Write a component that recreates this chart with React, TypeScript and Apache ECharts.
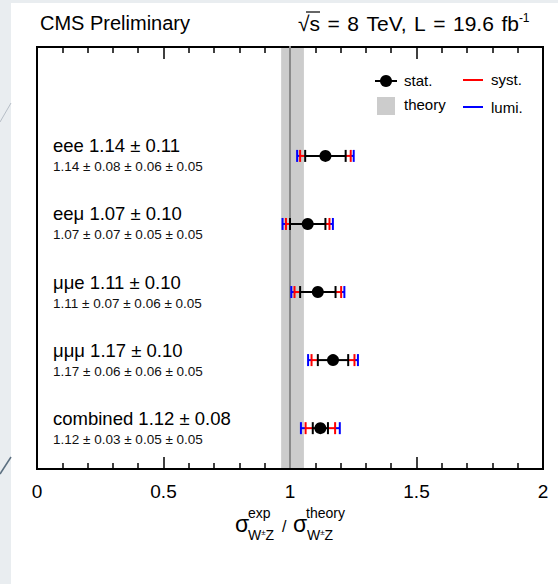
import React, { useEffect, useRef } from 'react';
import * as echarts from 'echarts';

const channels = ['eee', 'eeμ', 'μμe', 'μμμ', 'combined'];
const central = [1.14, 1.07, 1.11, 1.17, 1.12];
const totalErr = [0.11, 0.10, 0.10, 0.10, 0.08];
const statErr = [0.08, 0.07, 0.07, 0.06, 0.03];
const systErr = [0.06, 0.05, 0.06, 0.06, 0.05];
const lumiErr = [0.05, 0.05, 0.05, 0.05, 0.05];
const rowPos = [4.6, 3.6, 2.6, 1.6, 0.6];
const theoryBand = [0.965, 1.055];
const theoryCentral = 1.0;
const xMin = 0;
const xMax = 2;
const xInterval = 0.5;
const yMin = 0;
const yMax = 6.2;
const headerTokens = ['√s', '=', '8', 'TeV,', 'L', '=', '19.6', 'fb'];

const FONT = '"Liberation Sans", Arial, Helvetica, sans-serif';
const fmt = (v: number) => v.toFixed(2);

export default function App() {
  const ref = useRef<HTMLDivElement>(null);
  useEffect(() => {
    if (!ref.current) return;
    const chart = echarts.init(ref.current, null, { renderer: 'svg' });

    const errData = channels.map((_, i) => [rowPos[i], central[i], statErr[i], systErr[i], lumiErr[i]]);

    const axisCommon = {
      type: 'value',
      min: xMin,
      max: xMax,
      interval: xInterval,
      axisLine: { show: true, lineStyle: { color: '#000', width: 2 } },
      axisTick: { show: true, inside: true, length: 12, lineStyle: { color: '#000', width: 1.5 } },
      minorTick: { show: true, splitNumber: 5, length: 6, lineStyle: { color: '#000', width: 1.5 } },
      splitLine: { show: false },
    };

    const option: any = {
      animation: false,
      grid: {
        left: 37, right: 15, top: 47, bottom: 115,
        show: true, borderColor: '#000', borderWidth: 2, backgroundColor: 'transparent',
      },
      xAxis: [
        {
          ...axisCommon,
          position: 'bottom',
          axisLabel: { show: true, margin: 13, fontSize: 19, color: '#000', fontFamily: FONT },
        },
        {
          ...axisCommon,
          position: 'top',
          axisLabel: { show: false },
        },
      ],
      yAxis: { type: 'value', min: yMin, max: yMax, show: false },
      series: [
        {
          type: 'custom',
          z: 1,
          data: [[theoryBand[0], theoryBand[1], theoryCentral]],
          encode: { x: [0, 1] },
          renderItem: (params: any, api: any) => {
            const lo = api.value(0), hi = api.value(1), c = api.value(2);
            const pTop = api.coord([lo, yMax]);
            const pBot = api.coord([hi, yMin]);
            const cTop = api.coord([c, yMax]);
            const cBot = api.coord([c, yMin]);
            return {
              type: 'group',
              children: [
                { type: 'rect', shape: { x: pTop[0], y: pTop[1] + 1, width: pBot[0] - pTop[0], height: pBot[1] - pTop[1] - 2 }, style: { fill: '#cccccc' } },
                { type: 'line', shape: { x1: cTop[0], y1: cTop[1] - 1, x2: cBot[0], y2: cBot[1] - 1 }, style: { stroke: '#8a8a8a', lineWidth: 2 } },
              ],
            };
          },
        },
        {
          type: 'custom',
          z: 3,
          data: errData,
          encode: { x: 1, y: 0 },
          clip: false,
          renderItem: (params: any, api: any) => {
            const i = params.dataIndex;
            const y = api.value(0), c = api.value(1), s = api.value(2), sy = api.value(3), l = api.value(4);
            const ss = Math.sqrt(s * s + sy * sy);
            const tot = Math.sqrt(ss * ss + l * l);
            const px = (x: number) => api.coord([x, y])[0];
            const cy = api.coord([c, y])[1];
            const h = 6;
            const tick = (x: number, color: string) => ({ type: 'line', shape: { x1: x, y1: cy - h, x2: x, y2: cy + h }, style: { stroke: color, lineWidth: 2 } });
            const seg = (a: number, b: number, color: string) => ({ type: 'line', shape: { x1: a, y1: cy, x2: b, y2: cy }, style: { stroke: color, lineWidth: 2 } });
            const xl = [px(c - tot), px(c - ss), px(c - s)];
            const xr = [px(c + tot), px(c + ss), px(c + s)];
            const cx = px(c);
            const mainLabel = `${channels[i]} ${fmt(c)} ± ${fmt(totalErr[i])}`;
            const subLabel = `${fmt(c)} ± ${fmt(s)} ± ${fmt(sy)} ± ${fmt(l)}`;
            return {
              type: 'group',
              children: [
                seg(xl[0], xl[1], '#0000ff'),
                seg(xr[1], xr[0], '#0000ff'),
                seg(xl[1], xl[2], '#ff0000'),
                seg(xr[2], xr[1], '#ff0000'),
                seg(xl[2], xr[2], '#000'),
                tick(xl[0], '#0000ff'),
                tick(xr[0], '#0000ff'),
                tick(xl[1], '#ff0000'),
                tick(xr[1], '#ff0000'),
                tick(xl[2], '#000'),
                tick(xr[2], '#000'),
                { type: 'circle', shape: { cx, cy, r: 6 }, style: { fill: '#000' } },
                { type: 'text', style: { text: mainLabel, x: 53, y: cy - 10, fontSize: 18.5, fontFamily: FONT, fill: '#000', verticalAlign: 'middle', align: 'left' } },
                { type: 'text', style: { text: subLabel, x: 53, y: cy + 11, fontSize: 13.5, fontFamily: FONT, fill: '#111', verticalAlign: 'middle', align: 'left' } },
              ],
            };
          },
        },
      ],
      graphic: [
        { type: 'line', shape: { x1: 11, y1: 103, x2: 0, y2: 122 }, style: { stroke: '#b6bec6', lineWidth: 1 } },
        { type: 'line', shape: { x1: 11, y1: 457, x2: 0, y2: 474 }, style: { stroke: '#5b6f80', lineWidth: 1.5 } },
        { type: 'text', style: { text: 'CMS Preliminary', x: 40, y: 23, fontSize: 20, fontFamily: FONT, fill: '#000', verticalAlign: 'middle' } },
        {
          type: 'text',
          style: {
            text: headerTokens.join('{sp|}') + '{sup|-1}',
            x: 298, y: 23, align: 'left', verticalAlign: 'middle', fontSize: 21, fontFamily: FONT, fill: '#000',
            rich: {
              sp: { width: 7.5, fontSize: 21 },
              sup: { fontSize: 12, fontFamily: FONT, verticalAlign: 'top', padding: [0, 0, 10, 0] },
            },
          },
        },
        { type: 'line', shape: { x1: 306, y1: 12, x2: 320, y2: 12 }, style: { stroke: '#000', lineWidth: 1.2 } },
        // legend
        { type: 'line', shape: { x1: 375, y1: 81, x2: 397, y2: 81 }, style: { stroke: '#000', lineWidth: 2 } },
        { type: 'circle', shape: { cx: 386, cy: 81, r: 6 }, style: { fill: '#000' } },
        { type: 'text', style: { text: 'stat.', x: 404, y: 80, fontSize: 15, fontFamily: FONT, fill: '#000', verticalAlign: 'middle' } },
        { type: 'line', shape: { x1: 463, y1: 80, x2: 483, y2: 80 }, style: { stroke: '#ff0000', lineWidth: 2 } },
        { type: 'text', style: { text: 'syst.', x: 491, y: 79, fontSize: 15, fontFamily: FONT, fill: '#000', verticalAlign: 'middle' } },
        { type: 'rect', shape: { x: 377, y: 97, width: 18, height: 18 }, style: { fill: '#cccccc' } },
        { type: 'text', style: { text: 'theory', x: 404, y: 104, fontSize: 15, fontFamily: FONT, fill: '#000', verticalAlign: 'middle' } },
        { type: 'line', shape: { x1: 463, y1: 107, x2: 483, y2: 107 }, style: { stroke: '#0000ff', lineWidth: 2 } },
        { type: 'text', style: { text: 'lumi.', x: 491, y: 107, fontSize: 15, fontFamily: FONT, fill: '#000', verticalAlign: 'middle' } },
        // axis title
        { type: 'text', style: { text: 'σ', x: 235, y: 524, fontSize: 23, fontFamily: FONT, fill: '#000', verticalAlign: 'middle' } },
        { type: 'text', style: { text: 'exp', x: 248, y: 513, fontSize: 14, fontFamily: FONT, fill: '#000', verticalAlign: 'middle' } },
        { type: 'text', style: { text: 'W{pm|±}Z', x: 248, y: 535, fontSize: 14, fontFamily: FONT, fill: '#000', verticalAlign: 'middle', rich: { pm: { fontSize: 8, fontFamily: FONT, verticalAlign: 'top' } } } },
        { type: 'text', style: { text: '/', x: 282, y: 526, fontSize: 16, fontFamily: FONT, fill: '#000', verticalAlign: 'middle' } },
        { type: 'text', style: { text: 'σ', x: 293, y: 524, fontSize: 23, fontFamily: FONT, fill: '#000', verticalAlign: 'middle' } },
        { type: 'text', style: { text: 'theory', x: 306, y: 513, fontSize: 14, fontFamily: FONT, fill: '#000', verticalAlign: 'middle' } },
        { type: 'text', style: { text: 'W{pm|±}Z', x: 307, y: 535, fontSize: 14, fontFamily: FONT, fill: '#000', verticalAlign: 'middle', rich: { pm: { fontSize: 8, fontFamily: FONT, verticalAlign: 'top' } } } },
      ],
    };
    chart.setOption(option);
    return () => chart.dispose();
  }, []);

  return (
    <div style={{ position: 'fixed', left: 0, top: 0, width: 558, height: 584, background: '#e9edf0' }}>
      <div style={{ position: 'absolute', left: 11, top: 3, width: 547, height: 581, background: '#ffffff' }} />
      <div ref={ref} style={{ position: 'absolute', left: 0, top: 0, width: 558, height: 584 }} />
    </div>
  );
}
